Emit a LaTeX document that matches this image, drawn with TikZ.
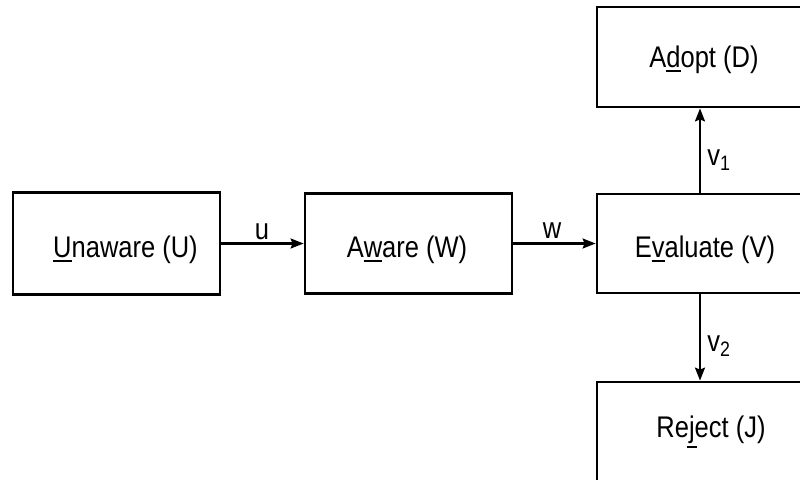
\documentclass[tikz,border=0pt]{standalone}
\usepackage{fontspec}
\setmainfont{Liberation Sans}
\usetikzlibrary{arrows.meta}
\newcommand\ulc[1]{\setbox0\hbox{#1}\dimen0=\wd0 \ifdim\dimen0<10pt \dimen0=10pt\fi\leavevmode\rlap{\makebox[\wd0]{\rule[\dimexpr-\dp0-4pt\relax]{\dimen0}{1.8pt}}}\box0}
\newcommand\tall[1]{\scalebox{1}[1.17]{#1}}
\begin{document}
\begin{tikzpicture}[x=1pt,y=-1pt,
  box/.style={draw=black,line width=2.8pt,minimum width=207pt,minimum height=100pt,inner sep=0pt},
  wbox/.style={box,minimum width=216pt},
  txt/.style={inner sep=0pt,anchor=base,font=\fontsize{25.5}{30}\selectfont},
  arr/.style={line width=2.2pt,-{Stealth[length=13pt,width=10pt,inset=2pt]}},
  lbl/.style={inner sep=0pt,font=\fontsize{25.5}{30}\selectfont}]
\useasboundingbox (0,0) rectangle (800,479);
\fill[white] (0,0) rectangle (800,479);
\clip (0,0) rectangle (800,479);
\node[box,minimum height=102pt] (U) at (116.5,243.5) {};
\node[box] (W) at (408.5,243.5) {};
\node[wbox,minimum height=99pt] (V) at (705,243.5) {};
\node[wbox] (D) at (705,57) {};
\node[wbox] (J) at (705,432) {};
\node[txt] (Ut) at (125.5,257) {\tall{\ulc{U}naware (U)}};
\node[txt] (Wt) at (407,257) {\tall{A\ulc{w}are (W)}};
\node[txt] (Vt) at (705,257) {\tall{E\ulc{v}aluate (V)}};
\node[txt] (Dt) at (704,67) {\tall{A\ulc{d}opt (D)}};
\node[txt] (Jt) at (711,437) {\tall{Re\ulc{j}ect (J)}};
\draw[arr] (U.east) -- (U.east -| W.west);
\draw[arr] (W.east) -- (W.east -| V.west);
\draw[arr] ([xshift=-5pt]V.north) -- ([xshift=-5pt]V.north |- D.south);
\draw[arr] ([xshift=-5pt]V.south) -- ([xshift=-5pt]V.south |- J.north);
\node[lbl] (lu) at (262,232) {\tall{u}};
\node[lbl] (lw) at (552,231) {\tall{w}};
\node[lbl] (lv1) at (719,160) {\tall{v\textsubscript{1}}};
\node[lbl] (lv2) at (719,346) {\tall{v\textsubscript{2}}};
\end{tikzpicture}
\end{document}
